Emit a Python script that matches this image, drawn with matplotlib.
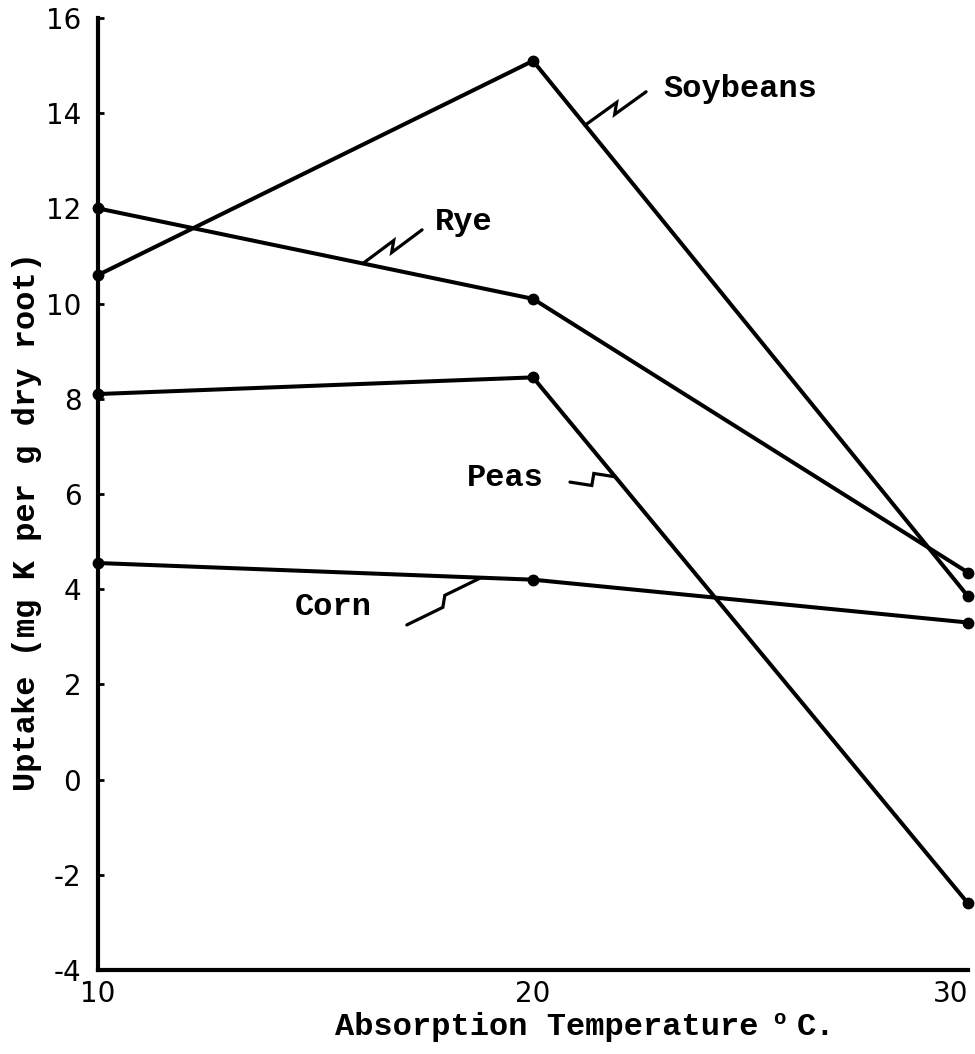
import matplotlib
matplotlib.use("Agg")
import matplotlib.pyplot as plt
import numpy as np

# values
temps = [10, 20, 30]
soybeans = [10.6, 15.1, 3.85]
rye = [12.0, 10.1, 4.35]
peas = [8.1, 8.45, -2.6]
corn = [4.55, 4.2, 3.3]

# label text, where the zigzag leaves the line, where it ends, where text sits
labels = ["Soybeans", "Rye", "Peas", "Corn"]
label_start = [(21.2, 13.75), (16.1, 10.85), (21.9, 6.36), (18.8, 4.24)]
label_end = [(22.6, 14.45), (17.45, 11.55), (20.85, 6.25), (17.1, 3.25)]
label_text = [(23.0, 14.5, "left"), (17.75, 11.72, "left"), (20.25, 6.33, "right"), (16.3, 3.62, "right")]

plt.rcParams["axes.unicode_minus"] = False
W, H = 975, 1054
fig = plt.figure(figsize=(W / 100, H / 100), dpi=100)
ax = fig.add_axes([98 / W, (H - 970) / H, 870 / W, 952 / H])

for vals in [soybeans, rye, peas, corn]:
    ax.plot(temps, vals, color="black", lw=2.9, marker="o", ms=7.5,
            solid_capstyle="round", clip_on=False)

ax.set_xlim(10, 30)
ax.set_ylim(-4, 16)
ax.set_xticks(temps)
ax.set_yticks(np.arange(-4, 17, 2))
for s in ["top", "right"]:
    ax.spines[s].set_visible(False)
for s in ["left", "bottom"]:
    ax.spines[s].set_linewidth(3)
ax.tick_params(axis="y", direction="in", length=4, width=2, pad=12,
               labelsize=20)
ax.tick_params(axis="x", length=0, pad=7, labelsize=20)
ax.get_xticklabels()[-1].set_ha("right")

txt_font = dict(family="Liberation Mono", weight="bold", fontsize=23, color="black")

# zigzag pointers from each line to its label
fig.canvas.draw()
to_pix = ax.transData
from_pix = ax.transData.inverted()
for name, a, b, (tx, ty, ha) in zip(labels, label_start, label_end, label_text):
    pa = np.array(to_pix.transform(a))
    pb = np.array(to_pix.transform(b))
    m = (pa + pb) / 2
    pts = np.array([pa, m + [1, 6], m + [-1, -6], pb])
    xs, ys = from_pix.transform(pts).T
    ax.plot(xs, ys, color="black", lw=2.3, solid_capstyle="round",
            solid_joinstyle="miter", clip_on=False)
    ax.text(tx, ty, name, ha=ha, va="center", **txt_font)

# x axis title: "Absorption Temperature", raised "o", then "C."
fig.text(335 / W, 1 - 1035 / H, "Absorption Temperature", ha="left",
         va="baseline", **txt_font)
fig.text(779 / W, 1 - 1018 / H, "o", ha="center", va="center",
         family="Liberation Mono", weight="bold", fontsize=15)
fig.text(797 / W, 1 - 1035 / H, "C.", ha="left", va="baseline", **txt_font)
fig.text(27 / W, 1 - 521 / H, "Uptake (mg K per g dry root)", rotation=90,
         ha="center", va="center", **txt_font)

fig.savefig("out.png", dpi=100)
